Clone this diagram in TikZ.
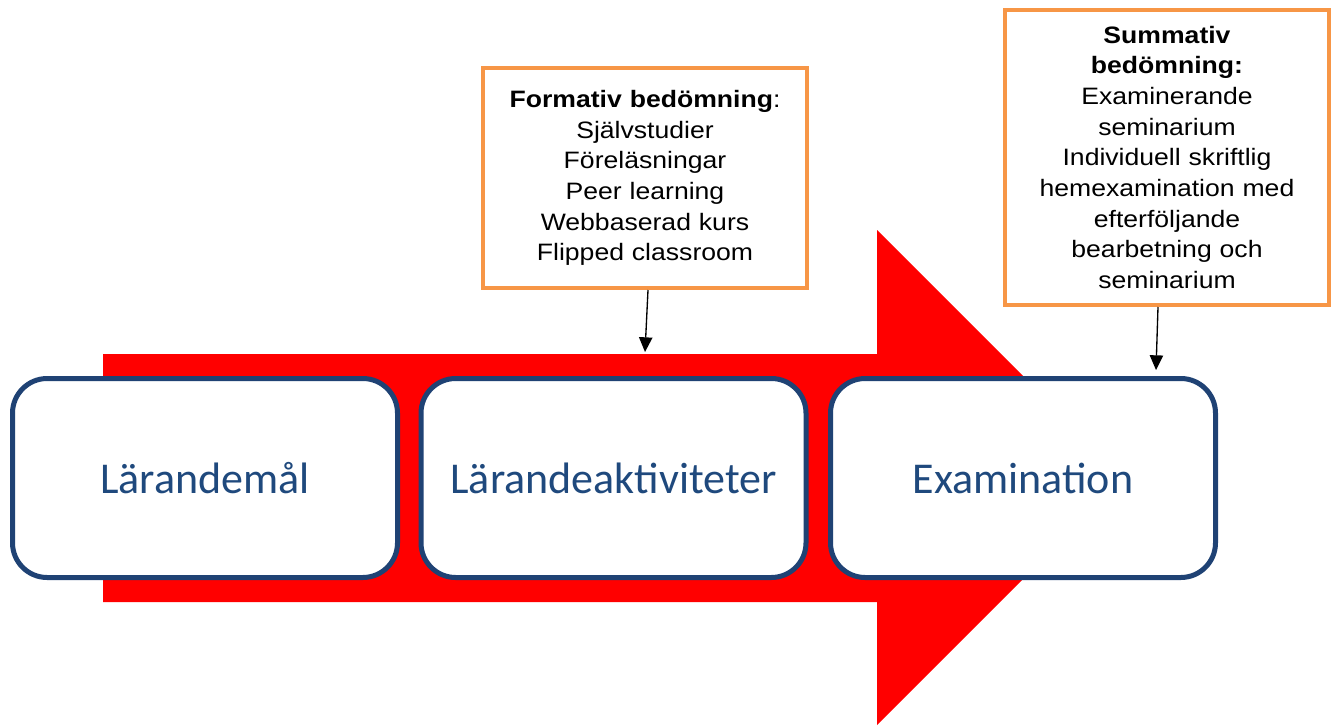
\documentclass[tikz,border=0pt]{standalone}
\usepackage{fontspec}
\setmainfont{Liberation Sans}
\newfontfamily\notefont[FakeStretch=1.12]{Liberation Sans}
\newfontfamily\stagefont{Carlito}
\usetikzlibrary{arrows.meta}
\definecolor{navy}{HTML}{1F4274}
\definecolor{stagetext}{HTML}{1F497D}
\definecolor{orangeb}{HTML}{F79646}
\definecolor{arrowred}{HTML}{FF0000}
\begin{document}
\begin{tikzpicture}[x=0.75pt,y=-0.75pt,
  stage/.style={draw=navy, line width=3.75pt, fill=white, rounded corners=26pt,
    minimum width=288.75pt, minimum height=149.25pt, inner sep=0pt,
    font=\stagefont\fontsize{33}{40}\selectfont, text=stagetext},
  note/.style={draw=orangeb, line width=3pt, fill=white, align=center,
    minimum width=243pt, text width=236pt, inner sep=0pt,
    font=\notefont\fontsize{17.8}{23}\selectfont, text=black},
  pointer/.style={-{Triangle[length=11pt,width=10pt]}, line width=1pt, black}]
\useasboundingbox (0,0) rectangle (1335,725);
% big red arrow
\fill[arrowred] (103,354) -- (877,354) -- (877,230) -- (1124.5,477.5) -- (877,725)
  -- (877,602) -- (103,602) -- cycle;
% stages
\node[stage] (goal) at (205,478) {Lärandemål};
\node[stage] (act) at (613.5,478) {Lärandeaktiviteter};
\node[stage] (exam) at (1023,478) {Examination};
% notes
\node[note, minimum height=165pt] (form) at (645,178)
  {\textbf{Formativ bedömning}:\\Självstudier\\Föreläsningar\\Peer learning\\Webbaserad kurs\\Flipped classroom};
\node[note, minimum height=221.25pt] (summ) at (1167,157.5)
  {\textbf{Summativ\\bedömning:}\\Examinerande\\seminarium\\Individuell skriftlig\\hemexamination med\\efterföljande\\bearbetning och\\seminarium};
% pointers
\coordinate (formend) at (645,352);
\coordinate (summend) at (1156,370);
\draw[pointer] (form.south -| 648,0) -- (formend);
\draw[pointer] (summ.south -| 1158,0) -- (summend);
\end{tikzpicture}
\end{document}
